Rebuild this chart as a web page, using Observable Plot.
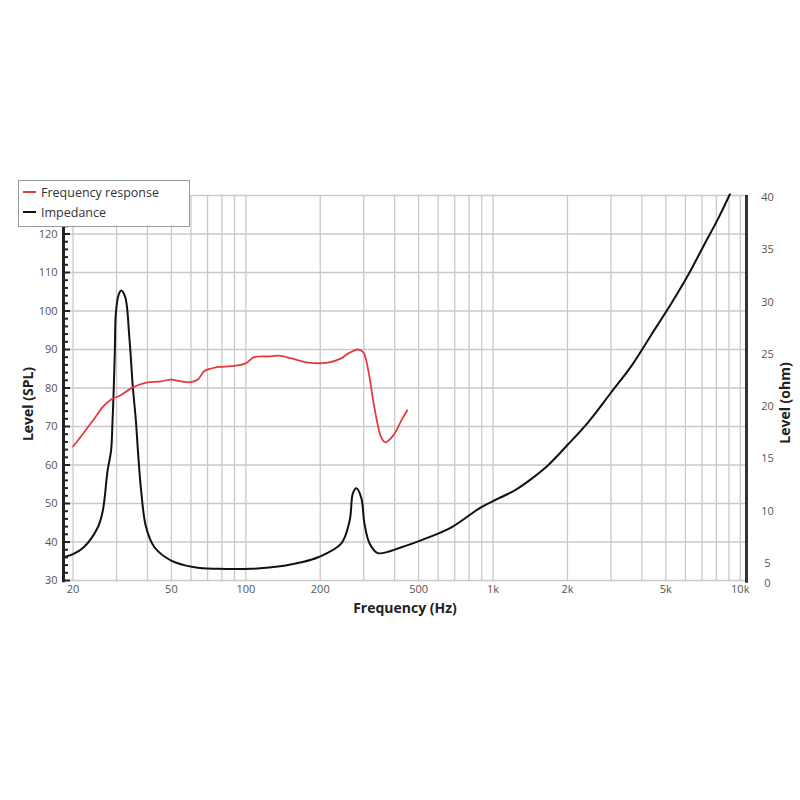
<!DOCTYPE html>
<html>
<head>
<meta charset="utf-8">
<script src="https://cdn.jsdelivr.net/npm/d3@7"></script>
<script src="https://cdn.jsdelivr.net/npm/@observablehq/plot@0.6"></script>
<style>
  html, body { margin: 0; padding: 0; background: #fff; }
  #wrap { position: relative; width: 800px; height: 800px; font-family: "Open Sans", Lato, sans-serif; }
  .legend { position: absolute; left: 18px; top: 180px; width: 172px; height: 47px; box-sizing: border-box;
            border: 1px solid #9a9a9a; background: #fff; font-size: 12.5px; color: #333; }
  .legend .row { position: absolute; left: 0; height: 16px; display: flex; align-items: center; }
  .legend .sw { display: inline-block; width: 13px; height: 2px; margin-left: 4px; margin-right: 5px; }
</style>
</head>
<body>
<div id="wrap">
  <div id="chart"></div>
  <div class="legend">
    <div class="row" style="top:3px"><span class="sw" style="background:#e53a40"></span><span id="lg1"></span></div>
    <div class="row" style="top:23px"><span class="sw" style="background:#111"></span><span id="lg2"></span></div>
  </div>
</div>
<script>
// ---- data ----
const seriesNames = ["Frequency response", "Impedance"];

// Frequency response (Hz, dB SPL)
const respFreq = [20, 22, 24.4, 26.5, 28.5, 31.3, 34.3, 39.5, 45.4, 49.9, 54.7, 60, 64, 68, 76, 80, 91, 100, 108, 124, 135, 153, 179, 215, 243, 260, 285, 299, 313, 331, 353, 367, 395, 426, 450];
const respSpl  = [64.8, 68.2, 72.1, 75.2, 77.0, 78.2, 79.9, 81.4, 81.7, 82.2, 81.7, 81.5, 82.2, 84.4, 85.4, 85.5, 85.8, 86.4, 88.0, 88.2, 88.4, 87.7, 86.6, 86.6, 87.7, 89.0, 90.0, 89.2, 84.5, 75.0, 67.2, 65.9, 67.7, 71.6, 74.2];

// Impedance (Hz, ohm)
const impFreq = [18.3, 20, 22.1, 25.2, 26.4, 27.6, 28.5, 28.9, 29.2, 29.5, 29.8, 30.5, 31.3, 32.5, 33.8, 34.9, 35.9, 36.6, 37.7, 39.5, 42.7, 49.9, 62, 77, 105, 143, 168, 196, 243, 263, 271, 280, 293, 302, 317, 342, 426, 529, 679, 897, 1048, 1224, 1430, 1671, 2013, 2425, 3014, 3631, 4377, 5275, 6163, 7192, 8150, 9080];
const impOhm  = [5.6, 5.9, 6.56, 8.47, 10.07, 13.9, 15.8, 18.7, 21.5, 25.0, 28.9, 30.6, 31.1, 30.5, 26.6, 21.9, 18.7, 15.8, 12.0, 8.47, 6.56, 5.29, 4.65, 4.5, 4.5, 4.8, 5.12, 5.6, 6.9, 9.1, 11.7, 12.2, 11.3, 8.8, 6.9, 6.0, 6.56, 7.36, 8.47, 10.4, 11.2, 12.0, 13.1, 14.4, 16.4, 18.5, 21.4, 23.9, 26.9, 29.9, 32.6, 35.6, 38.0, 40.3];

// axes / ticks
const xDomain = [18.3, 10600];
const yDomain = [30, 130];
const xTickValues = [20, 50, 100, 200, 500, 1000, 2000, 5000, 10000];
const xTickLabels = ["20", "50", "100", "200", "500", "1k", "2k", "5k", "10k"];
const xGrid = [20, 30, 40, 50, 60, 70, 80, 90, 100, 200, 300, 400, 500, 600, 700, 800, 900, 1000, 2000, 3000, 4000, 5000, 6000, 7000, 8000, 9000, 10000];
const yGrid = [30, 40, 50, 60, 70, 80, 90, 100, 110, 120, 130];
const yLabels = [30, 40, 50, 60, 70, 80, 90, 100, 110, 120];
const yMinor = [32, 34, 36, 38, 42, 44, 46, 48, 52, 54, 56, 58, 62, 64, 66, 68, 72, 74, 76, 78, 82, 84, 86, 88, 92, 94, 96, 98, 102, 104, 106, 108, 112, 114, 116, 118, 122, 124, 126, 128];
const ohmTicks = [0, 5, 10, 15, 20, 25, 30, 35, 40];
// right-axis calibration: 5 ohm and 40 ohm against the left (SPL) scale
const ohmCal = [5, 40];
const splCal = [34.4, 129.5];
const ohmToSpl = o => splCal[0] + (o - ohmCal[0]) * (splCal[1] - splCal[0]) / (ohmCal[1] - ohmCal[0]);
const ohmTickPos = o => Math.max(29.3, ohmToSpl(o));

const resp = respFreq.map((f, i) => ({f, v: respSpl[i]}));
const imp = impFreq.map((f, i) => ({f, v: ohmToSpl(impOhm[i])}));
const xTicks = xTickValues.map((f, i) => ({f, label: xTickLabels[i]}));

document.getElementById("lg1").textContent = seriesNames[0];
document.getElementById("lg2").textContent = seriesNames[1];

const font = "'Open Sans', Lato, sans-serif";
const chart = Plot.plot({
  width: 800,
  height: 800,
  marginTop: 195,
  marginBottom: 220,
  marginLeft: 63,
  marginRight: 54,
  x: {type: "log", domain: xDomain, axis: null},
  y: {domain: yDomain, axis: null},
  style: {fontFamily: font, fontSize: "11px", color: "#555", background: "#fff", overflow: "visible"},
  marks: [
    Plot.gridX(xGrid, {stroke: "#c9c9c9", strokeOpacity: 1, strokeWidth: 1.3}),
    Plot.gridY(yGrid, {stroke: "#c9c9c9", strokeOpacity: 1, strokeWidth: 1.3}),
    Plot.line(imp, {x: "f", y: "v", stroke: "#111", strokeWidth: 2, curve: "catmull-rom"}),
    Plot.line(resp, {x: "f", y: "v", stroke: "#e53a40", strokeWidth: 1.8, curve: "catmull-rom"}),
    // left axis line, right axis line
    Plot.ruleX([xDomain[0]], {stroke: "#222", strokeWidth: 3, y1: 29.4, y2: yDomain[1]}),
    Plot.ruleX([xDomain[1]], {stroke: "#333", strokeWidth: 3, y1: 29.3, y2: yDomain[1]}),
    // left axis ticks and labels
    Plot.axisY({ticks: yMinor, tickSize: 5, dx: 5, tickFormat: () => "", label: null, stroke: "#222", strokeWidth: 2}),
    Plot.axisY({ticks: yLabels, tickSize: 7, dx: 7, tickFormat: () => "", label: null, stroke: "#222", strokeWidth: 2}),
    Plot.axisY({ticks: yLabels, tickSize: 0, tickPadding: 6, label: null, fill: "#555"}),
    // bottom axis labels
    Plot.text(xTicks, {x: "f", text: "label", frameAnchor: "bottom", dy: 12, textAnchor: "middle", fill: "#555", fontSize: 11}),
    // right axis labels (ohm)
    Plot.text(ohmTicks, {y: ohmTickPos, text: d => String(d), frameAnchor: "right", dx: 21, textAnchor: "middle", fill: "#555", fontSize: 11}),
    // axis titles
    Plot.text(["Level (SPL)"], {frameAnchor: "left", dx: -35, dy: 16, rotate: -90, textAnchor: "middle", fontWeight: "bold", fontSize: 14, fill: "#222"}),
    Plot.text(["Level (ohm)"], {frameAnchor: "right", dx: 39, dy: 15, rotate: -90, textAnchor: "middle", fontWeight: "bold", fontSize: 14, fill: "#222"}),
    Plot.text(["Frequency (Hz)"], {frameAnchor: "bottom", dy: 32, textAnchor: "middle", fontWeight: "bold", fontSize: 14, fill: "#222"})
  ]
});
document.getElementById("chart").appendChild(chart);
</script>
</body>
</html>
